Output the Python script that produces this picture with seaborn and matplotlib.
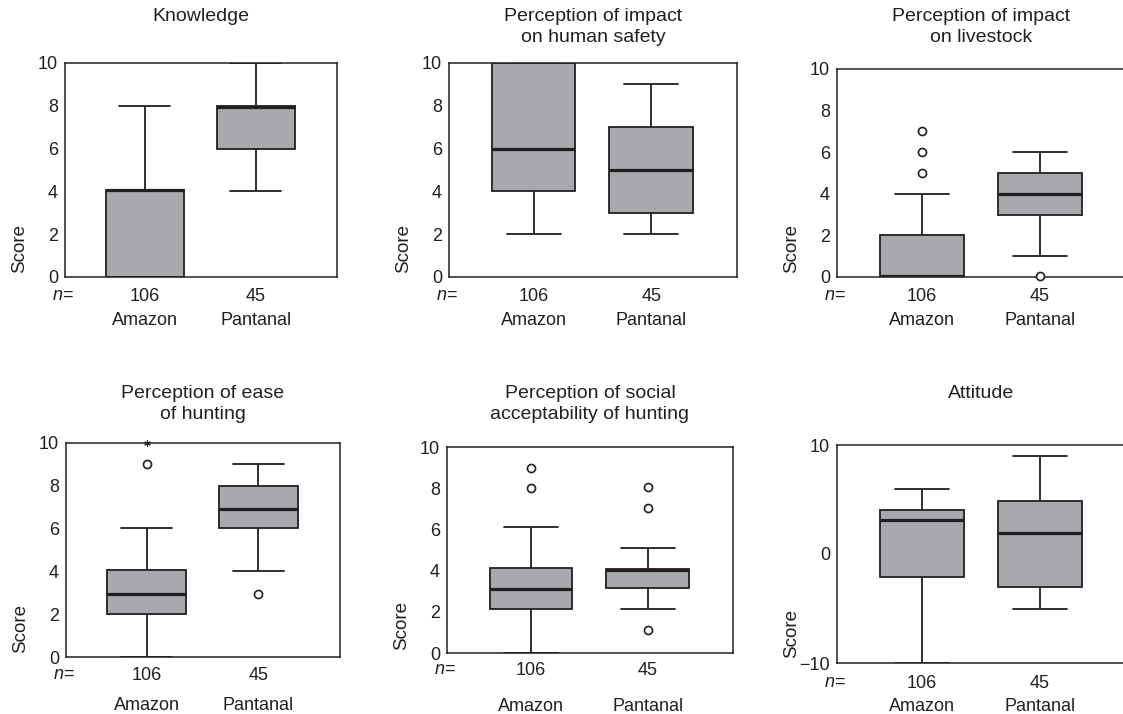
import numpy as np
import pandas as pd
import matplotlib
matplotlib.use("Agg")
import matplotlib.pyplot as plt
import matplotlib.transforms as mtransforms
import seaborn as sns

# ---------------- data ----------------
groups = ["Amazon", "Pantanal"]
n_labels = ["106", "45"]
titles = [
    "Knowledge",
    "Perception of impact\non human safety",
    "Perception of impact\non livestock",
    "Perception of ease\nof hunting",
    "Perception of social\nacceptability of hunting",
    "Attitude",
]
# five-number summaries: [whisker low, Q1, median, Q3, whisker high]
knowledge_amazon = [0, 0, 4.05, 4.05, 8]
knowledge_pantanal = [4, 6, 7.95, 8.0, 10]
safety_amazon = [2, 4, 6, 10, 10]
safety_pantanal = [2, 3, 5, 7, 9]
livestock_amazon = [0, 0, 0.05, 2, 4]
livestock_pantanal = [1, 3, 4, 5, 6]
ease_amazon = [0, 2, 2.95, 4.05, 6.05]
ease_pantanal = [4, 6.05, 6.9, 8, 9]
social_amazon = [0, 2.15, 3.1, 4.15, 6.1]
social_pantanal = [2.15, 3.15, 4.05, 4.1, 5.1]
attitude_amazon = [-10, -2.1, 3.1, 4.0, 6.0]
attitude_pantanal = [-5, -3, 1.9, 4.9, 9]

# outliers (circles) and extremes (asterisks)
livestock_out_amazon = [5, 6, 7]
livestock_out_pantanal = [0.05]
ease_out_amazon = [9]
ease_out_pantanal = [2.95]
ease_ext_amazon = [10]
social_out_amazon = [8, 9]
social_out_pantanal = [1.1, 7.05, 8.05]

panels = [
    (knowledge_amazon, knowledge_pantanal, [], [], []),
    (safety_amazon, safety_pantanal, [], [], []),
    (livestock_amazon, livestock_pantanal, livestock_out_amazon, livestock_out_pantanal, []),
    (ease_amazon, ease_pantanal, ease_out_amazon, ease_out_pantanal, ease_ext_amazon),
    (social_amazon, social_pantanal, social_out_amazon, social_out_pantanal, []),
    (attitude_amazon, attitude_pantanal, [], [], []),
]
ylims = [(0, 10)] * 5 + [(-10, 10)]
yticks = [[0, 2, 4, 6, 8, 10]] * 5 + [[-10, 0, 10]]

# ---------------- layout (pixels) ----------------
W, H = 1123, 714
# left, right, top, bottom
boxes_px = [
    (65, 337, 63, 277),
    (449, 737, 63, 277),
    (837, 1126, 69, 277),
    (66, 340, 443, 657),
    (447, 733, 447, 653),
    (837, 1126, 445, 663),
]
title_top_px = [8, 8, 8, 385, 385, 385]
tick_pad_px = [11, 11, 11, 10, 9, 12]
group_label_px = [35, 35, 35, 40, 45, 35]

sns.set_theme(style="white")
plt.rcParams["font.family"] = ["Liberation Sans", "DejaVu Sans"]
plt.rcParams["mathtext.fontset"] = "custom"
plt.rcParams["mathtext.it"] = "Liberation Sans:italic"
plt.rcParams["mathtext.rm"] = "Liberation Sans"

INK = "#231f20"
FILL = "#a7a9ac"
FS = 13

fig = plt.figure(figsize=(W / 100, H / 100), dpi=100)
fig.patch.set_facecolor("white")

for i, (amz, pan, out_a, out_p, ext_a) in enumerate(panels):
    l, r, t, b = boxes_px[i]
    ax = fig.add_axes([l / W, 1 - b / H, (r - l) / W, (b - t) / H])
    df = pd.DataFrame({
        "group": [groups[0]] * len(amz) + [groups[1]] * len(pan),
        "score": list(amz) + list(pan),
    })
    sns.boxplot(
        data=df, x="group", y="score", order=groups, ax=ax,
        whis=(0, 100), width=0.71, color=FILL, saturation=1,
        linecolor=INK, linewidth=1.3, showfliers=False,
        medianprops={"linewidth": 2.3, "color": INK},
        capwidths=0.46,
    )
    odf = pd.DataFrame({
        "group": [groups[0]] * len(out_a) + [groups[1]] * len(out_p),
        "score": list(out_a) + list(out_p),
    })
    if len(odf):
        sns.stripplot(
            data=odf, x="group", y="score", order=groups, ax=ax,
            jitter=False, size=5.8, color="white", edgecolor=INK,
            linewidth=1.2, zorder=5, clip_on=False,
        )
    if len(ext_a):
        edf = pd.DataFrame({"group": [groups[0]] * len(ext_a), "score": ext_a})
        sns.stripplot(
            data=edf, x="group", y="score", order=groups, ax=ax,
            jitter=False, size=4, color=INK, marker=(6, 2, 0),
            linewidth=0.8, zorder=5, clip_on=False,
        )

    ax.set_xlim(-0.72, 1.73)
    ax.set_ylim(*ylims[i])
    ax.set_yticks(yticks[i])
    ax.set_yticklabels([("\u2212" + str(-v)) if v < 0 else str(v) for v in yticks[i]])
    ax.set_xticks([0, 1])
    ax.set_xticklabels(n_labels)
    ax.set_xlabel("")
    pad_pt = (tick_pad_px[i] - 4) / (100 / 72)
    ax.tick_params(axis="both", direction="out", length=3, width=1.0,
                   color=INK, labelcolor=INK, labelsize=FS)
    ax.tick_params(axis="x", pad=pad_pt)
    ax.tick_params(axis="y", pad=2)
    for s in ax.spines.values():
        s.set_color(INK)
        s.set_linewidth(1.1)
        s.set_visible(True)

    axw = r - l
    ax.set_ylabel("Score", fontsize=FS + 0.5, color=INK)
    ax.yaxis.set_label_coords(-37 / axw, 0.135)

    # n= label
    ax.annotate("$n$=", xy=(0, 0), xycoords="axes fraction",
                xytext=(-2, -tick_pad_px[i] + 1), textcoords="offset pixels",
                ha="center", va="top", fontsize=FS, color=INK)
    # group names
    for k, g in enumerate(groups):
        ax.annotate(g, xy=(k, 0), xycoords=("data", "axes fraction"),
                    xytext=(0, -group_label_px[i]), textcoords="offset pixels",
                    ha="center", va="top", fontsize=FS, color=INK)
    # title
    tr = mtransforms.blended_transform_factory(ax.transAxes, fig.transFigure)
    ax.text(0.5, 1 - title_top_px[i] / H, titles[i], transform=tr,
            ha="center", va="top", fontsize=FS + 1, color=INK, linespacing=1.3)

fig.savefig("out.png", dpi=100, facecolor="white")
